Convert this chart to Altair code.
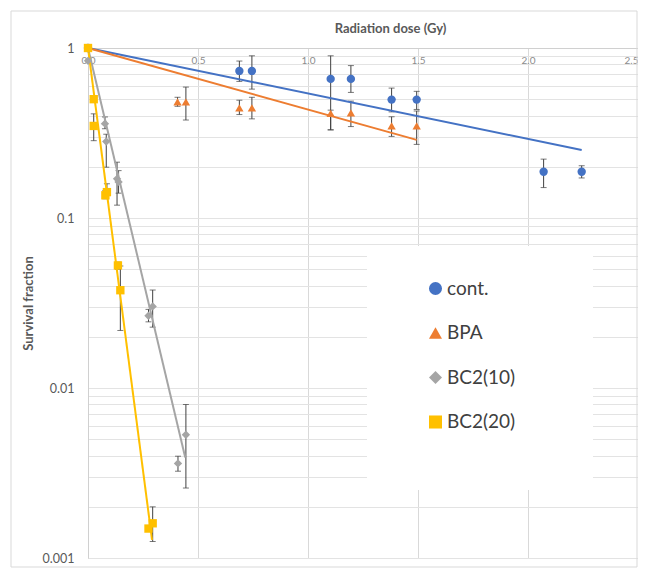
import altair as alt
import pandas as pd

# ---------------- data ----------------
series_names = ["cont.", "BPA", "BC2(10)", "BC2(20)"]
series_colors = ["#4472C4", "#ED7D31", "#A5A5A5", "#FFC000"]
series_shapes = ["circle", "triangle-up", "diamond", "square"]

cont_x = [0, 0.688, 0.745, 1.103, 1.195, 1.380, 1.494, 2.071, 2.244]
cont_y = [1, 0.733, 0.733, 0.658, 0.658, 0.497, 0.497, 0.187, 0.187]
cont_lo = [1, 0.636, 0.573, 0.330, 0.548, 0.421, 0.435, 0.151, 0.172]
cont_hi = [1, 0.838, 0.900, 0.900, 0.788, 0.581, 0.556, 0.222, 0.203]

bpa_x = [0, 0.407, 0.445, 0.688, 0.745, 1.103, 1.195, 1.380, 1.494]
bpa_y = [1, 0.482, 0.482, 0.445, 0.445, 0.412, 0.415, 0.348, 0.348]
bpa_lo = [1, 0.454, 0.377, 0.406, 0.383, 0.330, 0.345, 0.302, 0.271]
bpa_hi = [1, 0.513, 0.589, 0.493, 0.513, 0.431, 0.487, 0.394, 0.426]

bc10_x = [0, 0.077, 0.083, 0.132, 0.139, 0.275, 0.294, 0.409, 0.445]
bc10_y = [0.84, 0.359, 0.282, 0.170, 0.163, 0.0266, 0.0302, 0.0036, 0.00531]
bc10_lo = [0.84, 0.335, 0.199, 0.119, 0.140, 0.0245, 0.0228, 0.00324, 0.00258]
bc10_hi = [0.84, 0.393, 0.311, 0.213, 0.190, 0.0290, 0.0377, 0.00397, 0.0080]

bc20_x = [0, 0.026, 0.026, 0.079, 0.086, 0.136, 0.147, 0.275, 0.294]
bc20_y = [1, 0.50, 0.348, 0.136, 0.142, 0.0526, 0.0376, 0.00149, 0.00160]
bc20_lo = [1, 0.50, 0.285, 0.130, 0.142, 0.0500, 0.0218, 0.00149, 0.00125]
bc20_hi = [1, 0.50, 0.410, 0.145, 0.159, 0.0550, 0.0522, 0.00149, 0.00200]

# exponential trend lines (straight on the log axis): start / end
fit_series = ["cont.", "cont.", "BPA", "BPA", "BC2(10)", "BC2(10)", "BC2(20)", "BC2(20)"]
fit_x = [0, 2.244, 0, 1.494, 0, 0.442, 0, 0.291]
fit_y = [1, 0.251, 1, 0.288, 1, 0.0039, 1, 0.00128]

x_ticks = [0, 0.5, 1, 1.5, 2, 2.5]
y_major = [1, 0.1, 0.01, 0.001]

# ---------------- tables ----------------
rows = []
for name, xs, ys, los, his in [
    ("cont.", cont_x, cont_y, cont_lo, cont_hi),
    ("BPA", bpa_x, bpa_y, bpa_lo, bpa_hi),
    ("BC2(10)", bc10_x, bc10_y, bc10_lo, bc10_hi),
    ("BC2(20)", bc20_x, bc20_y, bc20_lo, bc20_hi),
]:
    for a, b, c, d in zip(xs, ys, los, his):
        rows.append({"series": name, "dose": a, "sf": b, "lo": c, "hi": d})
pts = pd.DataFrame(rows)
fits = pd.DataFrame({"series": fit_series, "dose": fit_x, "sf": fit_y})

y_grid = [round(m * 10 ** e, 6) for e in (-3, -2, -1) for m in range(1, 10)] + [1]

FONT = "Lato"

x_scale = alt.Scale(domain=[0, 2.5], nice=False)
y_scale = alt.Scale(type="log", domain=[0.001, 1], nice=False)

x_axis = alt.Axis(
    orient="top", values=x_ticks, title="Radiation dose (Gy)",
    ticks=False, tickSize=0, labelPadding=-17, labelFontSize=10,
    labelColor="#8C8C8C", labelFont=FONT,
    labelAlign={"condition": {"test": "datum.value == 2.5", "value": "right"}, "value": "center"},
    domainColor="#D0D0D0", gridColor="#D9D9D9",
    titleFont=FONT, titleFontSize=13, titleFontWeight="bold", titleColor="#595959",
    titleX=302, titleY=-20, titleBaseline="middle", titleAlign="center",
)
y_label_expr = " : ".join(
    f"datum.value == {v} ? '{v}'" for v in y_major
) + " : ''"
y_axis = alt.Axis(
    values=y_grid, labelExpr=y_label_expr, title="Survival fraction",
    ticks=False, tickSize=0, labelPadding=14, labelFontSize=12.5,
    labelColor="#595959", labelFont=FONT, labelOverlap=False,
    domainColor="#D0D0D0", gridColor="#E3E3E3",
    titleFont=FONT, titleFontSize=13, titleFontWeight="bold", titleColor="#595959",
    titleX=-60, titleY=255, titleBaseline="middle", titleAlign="center",
)

x_enc = alt.X("dose:Q", scale=x_scale, axis=x_axis)
y_enc = alt.Y("sf:Q", scale=y_scale, axis=y_axis)

base = alt.Chart(pts)

frame = alt.Chart(alt.Data(values=[{}])).mark_rect(
    fill=None, stroke="#D9D9D9", strokeWidth=1
).encode(x=alt.value(-77), x2=alt.value(549), y=alt.value(-37), y2=alt.value(519))

legend_bg = alt.Chart(alt.Data(values=[{}])).mark_rect(
    fill="white", stroke=None
).encode(x=alt.value(279), x2=alt.value(505), y=alt.value(198), y2=alt.value(442))

err = base.mark_rule(color="#404040", strokeWidth=1).encode(
    x="dose:Q", y=alt.Y("lo:Q", scale=y_scale), y2="hi:Q"
)
cap_lo = base.mark_tick(color="#404040", orient="horizontal", size=6, thickness=1).encode(
    x="dose:Q", y=alt.Y("lo:Q", scale=y_scale)
)
cap_hi = base.mark_tick(color="#404040", orient="horizontal", size=6, thickness=1).encode(
    x="dose:Q", y=alt.Y("hi:Q", scale=y_scale)
)

line_layers = [
    alt.Chart(fits).transform_filter(alt.datum.series == name)
    .mark_line(strokeWidth=2, color=col)
    .encode(x="dose:Q", y=alt.Y("sf:Q", scale=y_scale))
    for name, col in zip(series_names, series_colors)
]

legend = alt.Legend(
    title=None, orient="none", legendX=338, legendY=231, padding=0, zindex=2,
    labelFontSize=19, labelFont=FONT, labelColor="#404040",
    symbolSize=170, symbolStrokeWidth=0, rowPadding=24.5, labelOffset=2,
)

points = base.mark_point(filled=True, opacity=1, size=70, strokeWidth=0).encode(
    x=x_enc, y=y_enc,
    color=alt.Color("series:N", scale=alt.Scale(domain=series_names, range=series_colors),
                    legend=legend),
    shape=alt.Shape("series:N", scale=alt.Scale(domain=series_names, range=series_shapes),
                    legend=legend),
)

chart = alt.layer(frame, legend_bg, err, cap_lo, cap_hi, *line_layers, points).properties(
    width=550, height=510,
    padding={"left": 80, "top": 40, "right": 0, "bottom": 10},
    autosize=alt.AutoSizeParams(type="none"),
).configure_view(stroke=None).configure(background="white")

chart.save("out.html", embed_options={"renderer": "svg", "actions": False})
